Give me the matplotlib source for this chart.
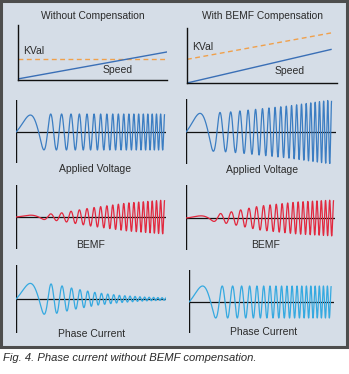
import numpy as np
import matplotlib
matplotlib.use('Agg')
import matplotlib.pyplot as plt
from matplotlib.patches import Rectangle

W, H = 349, 374

# top row: KVal and speed (x as fraction of the axis, y as fraction of height)
line_x_left = [0.0, 1.0]
speed_left = [0.02, 0.51]
kval_left = [0.38, 0.38]
line_x_right = [0.0, 0.96]
speed_right = [0.0, 0.61]
kval_right = [0.43, 0.91]

# chirp: frequency knots (fraction of span, cycles per span)
chirp_t = [0.0, 0.15, 0.22, 0.5, 1.0]
chirp_f = [1.5, 5.0, 12.0, 21.0, 37.0]

# amplitude envelopes (knot position, amplitude in px)
volt_left_t = [0.0, 0.2, 0.6, 1.0]
volt_left_a = [16, 18, 18, 18]
volt_right_t = [0.0, 0.3, 0.7, 1.0]
volt_right_a = [18, 20, 26, 32]
bemf_left_t = [0.0, 0.15, 0.3, 0.5, 0.75, 1.0]
bemf_left_a = [1.5, 2, 4, 9, 14, 17]
bemf_right_t = [0.0, 0.15, 0.3, 0.5, 0.75, 1.0]
bemf_right_a = [1.5, 2.5, 6, 12, 16, 18]
curr_left_t = [0.0, 0.25, 0.4, 0.55, 0.7, 0.85, 1.0]
curr_left_a = [16, 15, 10, 6, 3.5, 2, 1.2]
curr_right_t = [0.0, 1.0]
curr_right_a = [16, 16]

titles = ['Without Compensation', 'With BEMF Compensation']
row_labels = ['Applied Voltage', 'BEMF', 'Phase Current']
caption = 'Fig. 4. Phase current without BEMF compensation.'

BG = '#d5dde7'
TXT = '#2b2b2b'
C_VOLT = '#3b7dc2'
C_BEMF = '#e2283e'
C_CURR = '#35a9e0'
C_SPEED = '#3a6fb6'
C_KVAL = '#f0a04b'
FONT = ['Liberation Sans', 'DejaVu Sans']

fig = plt.figure(figsize=(W / 100, H / 100), dpi=100)
fig.patch.set_facecolor('white')
fig.add_artist(Rectangle((1 / W, 1 - 347 / H), 346 / W, 346 / H, transform=fig.transFigure,
                         facecolor=BG, edgecolor='#4d4d4d', lw=2.2, zorder=-5))


def box(x0, y0, x1, y1):
    ax = fig.add_axes([x0 / W, 1 - y1 / H, (x1 - x0) / W, (y1 - y0) / H])
    ax.set_facecolor('none')
    return ax


def label(x, y, s, size=7.5, **kw):
    fig.text(x / W, 1 - y / H, s, ha='center', va='center', fontsize=size,
             color=TXT, family=FONT, **kw)


def top_panel(x0, y0, x1, y1, lx, speed, kval):
    ax = box(x0, y0, x1, y1)
    ax.set_xlim(0, 1)
    ax.set_ylim(0, 1)
    ax.plot(lx, kval, color=C_KVAL, lw=1.0, ls=(0, (3.5, 2.5)))
    ax.plot(lx, speed, color=C_SPEED, lw=1.0)
    for s in ['top', 'right']:
        ax.spines[s].set_visible(False)
    for s in ['left', 'bottom']:
        ax.spines[s].set_linewidth(1.0)
        ax.spines[s].set_color('#111111')
    ax.set_xticks([])
    ax.set_yticks([])
    return ax


def wave_panel(x0, y0, x1, y1, zero, end, env_t, env_a, color):
    ax = box(x0, y0, x1, y1)
    ax.axis('off')
    ax.set_xlim(0, 1)
    ax.set_ylim(-(y1 - zero), zero - y0)
    t = np.linspace(0, end, 3000)
    f = np.interp(t / end, chirp_t, chirp_f)
    phase = np.concatenate([[0], np.cumsum((f[1:] + f[:-1]) / 2 * np.diff(t / end))])
    amp = np.interp(t / end, env_t, env_a)
    ax.axhline(0, color='#111111', lw=0.9)
    ax.axvline(0, color='#111111', lw=1.0)
    ax.plot(t, amp * np.sin(2 * np.pi * phase), color=color, lw=0.9)
    return ax


top_panel(18, 25, 167, 80, line_x_left, speed_left, kval_left)
top_panel(187, 28, 337, 83, line_x_right, speed_right, kval_right)

wave_panel(16, 100, 166, 163, 132, 0.99, volt_left_t, volt_left_a, C_VOLT)
wave_panel(186, 99, 336, 164, 132, 0.97, volt_right_t, volt_right_a, C_VOLT)
wave_panel(16, 185, 166, 249, 217, 0.99, bemf_left_t, bemf_left_a, C_BEMF)
wave_panel(186, 185, 335, 250, 218, 0.99, bemf_right_t, bemf_right_a, C_BEMF)
wave_panel(16, 265, 166, 333, 299, 1.0, curr_left_t, curr_left_a, C_CURR)
wave_panel(189, 270, 334, 333, 302, 0.98, curr_right_t, curr_right_a, C_CURR)

label(93, 16, titles[0], size=7.4)
label(262, 16, titles[1], size=7.4)
label(34, 51, 'KVal')
label(118, 70, 'Speed')
label(203, 47, 'KVal')
label(290, 71, 'Speed')
label(95, 169, row_labels[0])
label(262, 170, row_labels[0])
label(91, 245, row_labels[1])
label(266, 245, row_labels[1])
label(92, 334, row_labels[2])
label(264, 332, row_labels[2])

fig.text(3 / W, 1 - 358 / H, caption, ha='left', va='center', fontsize=8.1,
         style='italic', color=TXT, family=FONT)

fig.savefig('out.png', dpi=100, facecolor='white')
